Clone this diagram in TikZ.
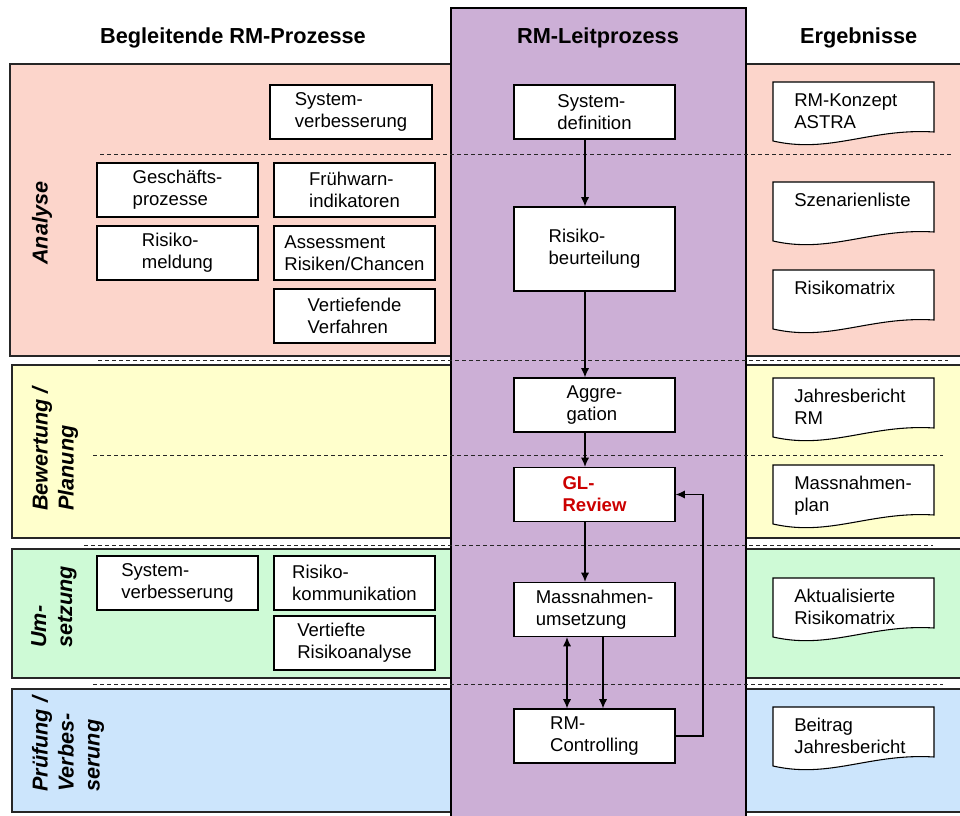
\documentclass[tikz,border=0pt]{standalone}
\usepackage{fontspec}
\setmainfont{Liberation Sans}
\usetikzlibrary{arrows.meta}
\definecolor{bandpink}{RGB}{252,213,203}
\definecolor{bandyellow}{RGB}{255,255,204}
\definecolor{bandgreen}{RGB}{206,250,214}
\definecolor{bandblue}{RGB}{204,229,252}
\definecolor{leitpurple}{RGB}{204,175,214}
\definecolor{glred}{RGB}{204,0,0}
\begin{document}
\begin{tikzpicture}[x=0.75pt,y=-0.75pt,
  bandrect/.style={draw=black!85, line width=0.8pt},
  dashsep/.style={draw=black!85, dash pattern=on 3pt off 2.25pt, line width=0.7pt},
  pbox/.style={draw, fill=white, line width=0.85pt, minimum width=120.75pt, minimum height=40.5pt, align=left, inner sep=0pt, font=\fontsize{13.9}{16.5}\selectfont},
  hdr/.style={font=\fontsize{16.3}{20}\selectfont\bfseries, inner sep=0pt},
  phase/.style={rotate=90, anchor=west, align=left, inner sep=0pt, font=\fontsize{16.2}{19.5}\selectfont\bfseries\itshape},
  arr/.style={-{Latex[length=7pt,width=6.2pt]}, line width=0.95pt},
  darr/.style={{Latex[length=7pt,width=6.2pt]}-{Latex[length=7pt,width=6.2pt]}, line width=0.95pt},
  docshape/.style={draw, fill=white, line width=0.8pt},
  doctext/.style={anchor=north west, align=left, inner sep=0pt, font=\fontsize{13.9}{16.5}\selectfont}
]
\useasboundingbox (0,0) rectangle (960,816);
\fill[white] (0,0) rectangle (960,816);

% phase bands
\draw[bandrect, fill=bandpink] (10,64) rectangle (975,356);
\draw[bandrect, fill=bandyellow] (12,365) rectangle (975,538);
\draw[bandrect, fill=bandgreen] (12,549) rectangle (975,678);
\draw[bandrect, fill=bandblue] (12,689) rectangle (975,812);

% lead process column
\draw[line width=0.8pt, fill=leitpurple] (451,830) -- (451,8) -- (746,8) -- (746,830);

% separators
\draw[dashsep] (100,154) -- (952,154);
\draw[dashsep] (98,360) -- (948,360);
\draw[dashsep] (93,455) -- (943,455);
\draw[dashsep] (84,545) -- (933,545);
\draw[dashsep] (93,684) -- (943,684);

% headers
\node[hdr] (h1) at (233,38) {Begleitende RM-Prozesse};
\node[hdr] (h2) at (598,38) {RM-Leitprozess};
\node[hdr] (h3) at (858.7,38) {Ergebnisse};

% phase labels
\node[phase] (p1) at (42,265) {Analyse};
\node[phase] (p2) at (55,511) {Bewertung /\\Planung};
\node[phase] (p3) at (54,648) {Um-\\setzung};
\node[phase] (p4) at (68,792) {Prüfung /\\Verbes-\\serung};

% accompanying processes
\node[pbox, minimum width=121.5pt] (sv1) at (351,112) {System-\\verbesserung};
\node[pbox] (gp) at (177.5,190) {Geschäfts-\\prozesse};
\node[pbox] (fw) at (354.5,190) {Frühwarn-\\indikatoren};
\node[pbox] (rm) at (177.5,253) {Risiko-\\meldung};
\node[pbox] (as) at (354.5,253) {Assessment\\Risiken/Chancen};
\node[pbox] (vv) at (354.5,316) {Vertiefende\\Verfahren};
\node[pbox] (sv2) at (177.5,583) {System-\\verbesserung};
\node[pbox] (rk) at (354.5,583) {Risiko-\\kommunikation};
\node[pbox] (vr) at (354.5,643) {Vertiefte\\Risikoanalyse};

% lead process
\node[pbox] (sd) at (594.5,112) {System-\\definition};
\node[pbox, minimum height=63pt] (rb) at (594.5,249) {Risiko-\\beurteilung};
\node[pbox] (ag) at (594.5,405) {Aggre-\\gation};
\node[pbox, text=glred, font=\fontsize{13.9}{16.5}\selectfont\bfseries] (gl) at (594.5,494.5) {GL-\\Review};
\node[pbox] (mu) at (594.5,609.5) {Massnahmen-\\umsetzung};
\node[pbox] (rc) at (594.5,736) {RM-\\Controlling};

% connectors
\coordinate (cx) at (585,0);
\coordinate (cxa) at (567,0);
\coordinate (cxb) at (603,0);
\coordinate (fb) at (703,0);
\draw[arr] (sd.south -| cx) -- (rb.north -| cx);
\draw[arr] (rb.south -| cx) -- (ag.north -| cx);
\draw[arr] (ag.south -| cx) -- (gl.north -| cx);
\draw[arr] (gl.south -| cx) -- (mu.north -| cx);
\draw[darr] (mu.south -| cxa) -- (rc.north -| cxa);
\draw[arr] (mu.south -| cxb) -- (rc.north -| cxb);
\draw[arr] (rc.east) -- (rc.east -| fb) -- (gl.east -| fb) -- (gl.east);

% result documents
\newcommand{\resdoc}[3]{%
  \draw[docshape] (773,#2) -- (934,#2) -- (934,#2+50)
    .. controls (870,#2+46) and (830,#2+72) .. (773,#2+59) -- cycle;
  \node[doctext] (#1) at (794,#2+11) {#3};
}
\resdoc{d1}{82}{RM-Konzept\\ASTRA}
\resdoc{d2}{182}{Szenarienliste}
\resdoc{d3}{270}{Risikomatrix}
\resdoc{d4}{378}{Jahresbericht\\RM}
\resdoc{d5}{465}{Massnahmen-\\plan}
\resdoc{d6}{578}{Aktualisierte\\Risikomatrix}
\resdoc{d7}{707}{Beitrag\\Jahresbericht}
\end{tikzpicture}
\end{document}
